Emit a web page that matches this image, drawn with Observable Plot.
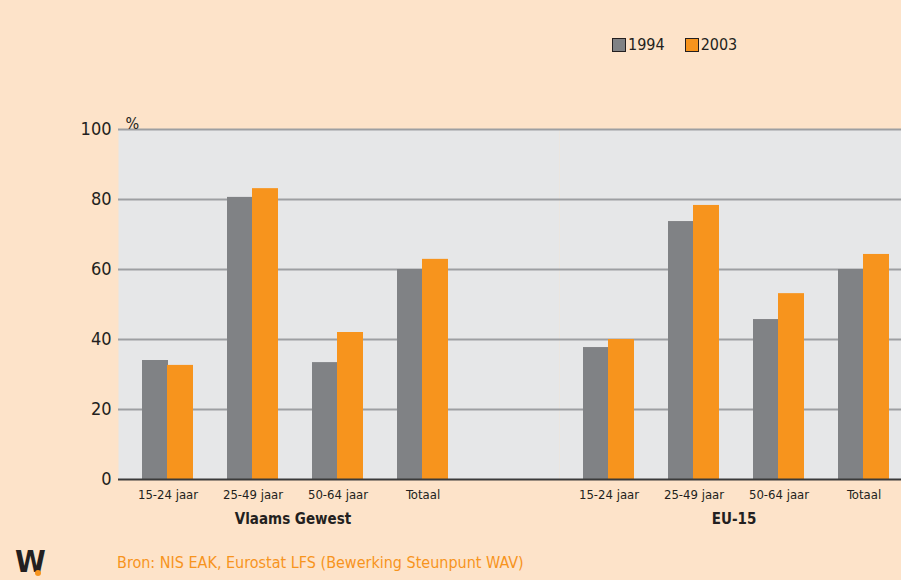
<!DOCTYPE html>
<html>
<head>
<meta charset="utf-8">
<script src="https://cdn.jsdelivr.net/npm/d3@7"></script>
<script src="https://cdn.jsdelivr.net/npm/@observablehq/plot@0.6"></script>
<style>
  html, body { margin: 0; padding: 0; background: #fde3c9; }
  #wrap { position: relative; width: 901px; height: 580px; background: #fde3c9; overflow: hidden;
          font-family: "Liberation Sans Narrow", "Arial Narrow", "DejaVu Sans Condensed", sans-serif; color: #231f20; }
  #legend { position: absolute; top: 35px; left: 612px; display: flex; gap: 20px; font-size: 16px; line-height: 20px; }
  #legend span.item { display: flex; align-items: center; }
  #legend span.sw { display: inline-block; width: 12px; height: 12px; border: 1.5px solid #231f20; margin-right: 2px; }
  #caption { position: absolute; left: 117px; top: 553px; font-size: 16px; line-height: 20px; color: #f7941d; }
  #logo { position: absolute; left: 15px; top: 546px; font-size: 31px; line-height: 31px; height: 32px; font-weight: bold; color: #231f20; font-family: "DejaVu Sans Condensed", sans-serif; }
  #logo i { position: absolute; left: 20px; top: 24px; width: 6px; height: 6px; border-radius: 3px; background: #f7941d; }
  #chart { position: absolute; left: 0; top: 0; }
</style>
</head>
<body>
<div id="wrap">
  <div id="chart"></div>
  <div id="legend"></div>
  <div id="caption"></div>
  <div id="logo">W<i></i></div>
</div>
<script>
const regions = ["Vlaams Gewest", "EU-15"];
const categories = ["15-24 jaar", "25-49 jaar", "50-64 jaar", "Totaal"];
const years = ["1994", "2003"];
const vlaams1994 = [34, 80.6, 33.4, 60];
const vlaams2003 = [32.6, 83.1, 42, 62.9];
const eu1994 = [37.7, 73.7, 45.7, 60];
const eu2003 = [40, 78.3, 53.1, 64.3];
const yTicks = [0, 20, 40, 60, 80, 100];
const colors = ["#808285", "#f7941d"];
const captionText = "Bron: NIS EAK, Eurostat LFS  (Bewerking Steunpunt WAV)";

const rows = [];
categories.forEach((c, i) => {
  rows.push({region: regions[0], category: c, v1994: vlaams1994[i], v2003: vlaams2003[i]});
  rows.push({region: regions[1], category: c, v1994: eu1994[i], v2003: eu2003[i]});
});

const font = "'Liberation Sans Narrow', 'Arial Narrow', 'DejaVu Sans Condensed', sans-serif";
const ext = -100;

const chart = Plot.plot({
  width: 901,
  height: 580,
  marginLeft: 117,
  marginRight: 0,
  marginTop: 129,
  marginBottom: 101,
  style: {background: "transparent", fontFamily: font, color: "#231f20"},
  fx: {domain: regions, paddingInner: 0.226, paddingOuter: 0, axis: null},
  x: {domain: categories, paddingInner: 0.405, paddingOuter: 0.2, align: 0.68, round: true, axis: null},
  y: {domain: [0, 100], axis: null},
  marks: [
    Plot.frame({fill: "#e6e7e8", stroke: "none", insetRight: ext}),
    Plot.ruleY(yTicks.slice(1), {stroke: "#9d9fa2", strokeWidth: 1.8, insetRight: ext}),
    Plot.barY(rows, {fx: "region", x: "category", y: "v1994", fill: colors[0], insetRight: 25}),
    Plot.barY(rows, {fx: "region", x: "category", y: "v2003", fill: colors[1], insetLeft: 25}),
    Plot.ruleY([0], {stroke: "#3a3a3a", strokeWidth: 2, insetRight: ext}),
    Plot.axisY({ticks: yTicks, tickSize: 0, tickPadding: 7, fontSize: 18, label: null}),
    Plot.text(["%"], {fx: () => regions[0], frameAnchor: "top-left", text: d => d, dx: 7, dy: -12, fontSize: 16}),
    Plot.axisX({tickSize: 0, tickPadding: 10, fontSize: 13, label: null}),
    Plot.text(regions, {fx: d => d, text: d => d, frameAnchor: "bottom", dy: 44, dx: 4, fontWeight: "bold", fontSize: 15})
  ]
});
document.getElementById("chart").appendChild(chart);

const legend = document.getElementById("legend");
years.forEach((y, i) => {
  const s = document.createElement("span");
  s.className = "item";
  s.innerHTML = `<span class="sw" style="background:${colors[i]}"></span>${y}`;
  legend.appendChild(s);
});
document.getElementById("caption").textContent = captionText;
</script>
</body>
</html>
